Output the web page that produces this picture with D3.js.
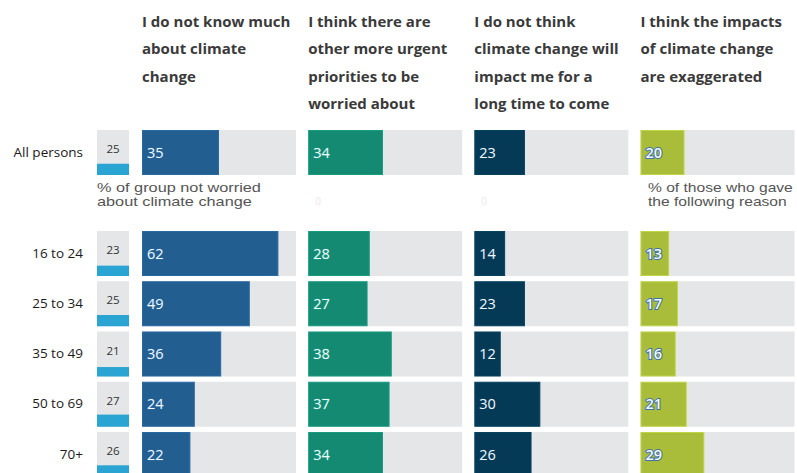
<!DOCTYPE html>
<html>
<head>
<meta charset="utf-8">
<script src="https://cdn.jsdelivr.net/npm/d3@7/dist/d3.min.js"></script>
<style>
  html, body { margin: 0; padding: 0; background: #ffffff; }
  svg { display: block; font-family: "Open Sans", "Noto Sans", sans-serif; }
</style>
</head>
<body>
<svg id="chart" width="797" height="473"></svg>
<script>
// Age groups (first row is the total)
const groups = ["All persons", "16 to 24", "25 to 34", "35 to 49", "50 to 69", "70+"];

// % of each group not worried about climate change
const notWorried = [25, 23, 25, 21, 27, 26];

// Reasons given (column headers, one line per entry)
const reasons = [
  ["I do not know much", "about climate", "change"],
  ["I think there are", "other more urgent", "priorities to be", "worried about"],
  ["I do not think", "climate change will", "impact me for a", "long time to come"],
  ["I think the impacts", "of climate change", "are exaggerated"]
];

// % of those not worried who gave each reason, per group
const notKnowMuch   = [35, 62, 49, 36, 24, 22];
const otherPriority = [34, 28, 27, 38, 37, 34];
const notForLong    = [23, 14, 23, 12, 30, 26];
const exaggerated   = [20, 13, 17, 16, 21, 29];

const reasonValues = [notKnowMuch, otherPriority, notForLong, exaggerated];
const reasonColors = ["#235e90", "#148a73", "#053a56", "#a9bd3a"];

const svg = d3.select("#chart");

// Row positions: total row, then the age groups after a gap for the notes
const rowH = 45;
const yRow = i => i === 0 ? 130 : d3.scaleLinear().domain([1, 5]).range([231, 432])(i);

// Reason columns
const colX = d3.scaleLinear().domain([0, 3]).range([142, 640.5]);
const colW = 154;
const x = d3.scaleLinear().domain([0, 70]).range([0, colW]);

// Small "not worried" column: vertical fill within its cell
const smallX = 97, smallW = 32;
const hScale = d3.scaleLinear().domain([0, 100]).range([0, rowH]);

// Headers
reasons.forEach((lines, c) => {
  const t = svg.append("text")
    .attr("x", colX(c))
    .attr("y", 26.5)
    .attr("font-size", 15)
    .attr("font-weight", 700)
    .attr("fill", "#3a3a3a");
  lines.forEach((ln, k) => {
    t.append("tspan").attr("x", colX(c)).attr("dy", k === 0 ? 0 : 27.5).text(ln);
  });
});

// Row labels
svg.append("g").selectAll("text")
  .data(groups)
  .join("text")
  .attr("x", 83)
  .attr("y", (d, i) => yRow(i) + rowH / 2 + 4)
  .attr("text-anchor", "end")
  .attr("font-size", 13.5)
  .attr("fill", "#1a1a1a")
  .text(d => d);

// Not-worried column
const small = svg.append("g");
small.selectAll("rect.bg")
  .data(notWorried)
  .join("rect")
  .attr("class", "bg")
  .attr("x", smallX)
  .attr("y", (d, i) => yRow(i))
  .attr("width", smallW)
  .attr("height", rowH)
  .attr("fill", "#e5e6e8");
small.selectAll("rect.val")
  .data(notWorried)
  .join("rect")
  .attr("class", "val")
  .attr("x", smallX)
  .attr("y", (d, i) => yRow(i) + rowH - hScale(d))
  .attr("width", smallW)
  .attr("height", d => hScale(d))
  .attr("fill", "#2aa4d2");
small.selectAll("text")
  .data(notWorried)
  .join("text")
  .attr("x", smallX + smallW / 2)
  .attr("y", (d, i) => yRow(i) + 23)
  .attr("text-anchor", "middle")
  .attr("font-size", 11.5)
  .attr("fill", "#333")
  .text(d => d);

// Reason columns
reasonValues.forEach((vals, c) => {
  const g = svg.append("g").attr("transform", `translate(${colX(c)},0)`);
  g.selectAll("rect.bg")
    .data(vals)
    .join("rect")
    .attr("class", "bg")
    .attr("x", 0)
    .attr("y", (d, i) => yRow(i))
    .attr("width", colW)
    .attr("height", rowH)
    .attr("fill", "#e5e6e8");
  g.selectAll("rect.val")
    .data(vals)
    .join("rect")
    .attr("class", "val")
    .attr("x", 0.5)
    .attr("y", (d, i) => yRow(i) + 0.5)
    .attr("width", d => x(d) - 1)
    .attr("height", rowH - 1)
    .attr("fill", reasonColors[c])
    .attr("stroke", d3.color(reasonColors[c]).brighter(0.35))
    .attr("stroke-width", 1);
  g.selectAll("text")
    .data(vals)
    .join("text")
    .attr("x", 5)
    .attr("y", (d, i) => yRow(i) + 27.5)
    .attr("font-size", 14.5)
    .attr("font-weight", c === 3 ? 600 : 400)
    .attr("fill", "#f4f7fb")
    .attr("stroke", c === 3 ? "#3f74a8" : d3.color(reasonColors[c]).brighter(0.5))
    .attr("stroke-width", c === 3 ? 2 : 0.8)
    .attr("paint-order", "stroke")
    .text(d => d);
});

// Notes under the total row: compact line box, widened to the note's set width
const noteFont = '"Liberation Sans", Arial, sans-serif';
function note(x0, lines, width) {
  const nodes = lines.map((ln, k) => svg.append("text")
    .attr("font-family", noteFont)
    .attr("font-size", 12.5)
    .attr("fill", "#555")
    .text(ln));
  const sx = width / nodes[0].node().getComputedTextLength();
  nodes.forEach((t, k) => t.attr("transform", `translate(${x0},${191.5 + k * 14.5}) scale(${sx},1)`));
}
note(97, ["% of group not worried", "about climate change"], 164);
note(648, ["% of those who gave", "the following reason"], 145);

// Faint zero markers under the middle columns
[1, 2].forEach(c => {
  svg.append("text")
    .attr("x", colX(c) + 7)
    .attr("y", 205)
    .attr("font-size", 10)
    .attr("fill", "#eee6ec")
    .text("0");
});
</script>
</body>
</html>
